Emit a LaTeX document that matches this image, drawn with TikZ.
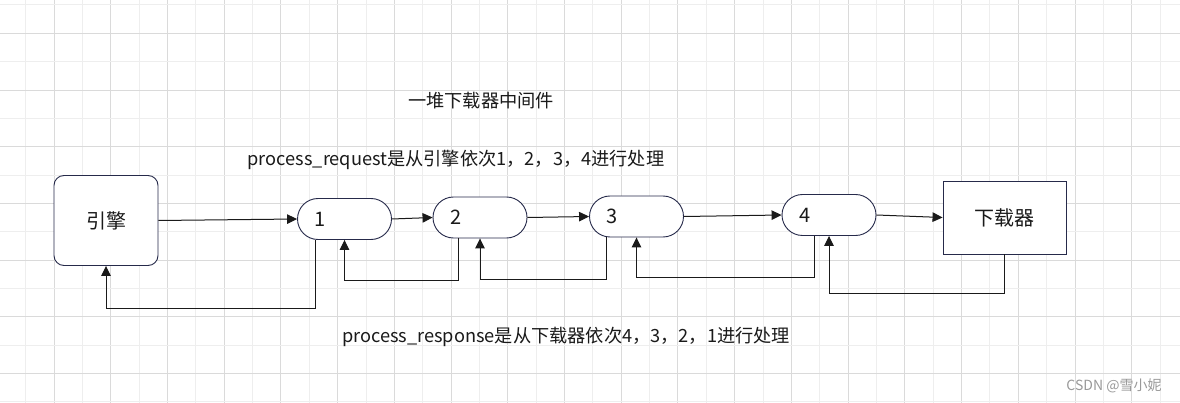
\documentclass[tikz,border=0pt]{standalone}
\usepackage{fontspec}
\setmainfont{Noto Sans CJK SC}
\usepackage{xcolor}
\usepackage{tikz}
\usetikzlibrary{positioning, arrows.meta}

\definecolor{shapeline}{HTML}{262A4A}
\definecolor{gridlight}{HTML}{EEEEEE}
\definecolor{griddark}{HTML}{DADADA}
\definecolor{inkblack}{HTML}{1A1A1A}
\definecolor{markgray}{HTML}{999999}

\begin{document}
\begin{tikzpicture}[
    x=1pt, y=-1pt,
    gridthin/.style={draw=gridlight, line width=1pt},
    gridthick/.style={draw=griddark, line width=1pt},
    endbox/.style={rectangle, draw=shapeline, line width=0.9pt, fill=white, text=inkblack, font=\fontsize{20}{24}\selectfont},
    mwbox/.style={rectangle, draw=shapeline, line width=0.9pt, fill=white, rounded corners=20.5pt, minimum width=94pt, minimum height=41pt, text width=60pt, inner xsep=17pt, inner ysep=0pt, align=left, text=inkblack, font=\fontsize{20}{24}\selectfont},
    note/.style={text=inkblack, inner sep=0pt, font=\fontsize{18.2}{22}\selectfont},
    arrow/.style={-{Triangle[length=10pt,width=9.5pt]}, draw=inkblack, line width=1pt}
]
\useasboundingbox[fill=white] (0,0) rectangle (1180,403);

% Background grid
\foreach \j in {0,...,20} \draw[gridthin] ({25.7+56.72*\j},0) -- ++(0,403);
\foreach \j in {0,...,19} \draw[gridthick] ({54.06+56.72*\j},0) -- ++(0,403);
\foreach \j in {0,...,7} \draw[gridthin] (0,{5+56.7*\j}) -- ++(1180,0);
\foreach \j in {0,...,6} \draw[gridthick] (0,{33.35+56.7*\j}) -- ++(1180,0);

% Engine and downloader
\node[endbox, rounded corners=10pt, minimum width=104pt, minimum height=90pt] (engine) at (106,220.5) {引擎};
\node[endbox, minimum width=123pt, minimum height=73pt] (loader) at (1004.5,217.5) {下载器};

% Middlewares
\node[mwbox] (mw1) at (344.5,219) {1};
\node[mwbox] (mw2) at (480,217.5) {2};
\node[mwbox] (mw3) at (636.5,216.5) {3};
\node[mwbox] (mw4) at (829,215) {4};

% Texts
\node[note] (title) at (481,101) {一堆下载器中间件};
\node[note] (reqnote) at (456,160) {process\_request是从引擎依次1，2，3，4进行处理};
\node[note] (respnote) at (566,337) {process\_response是从下载器依次4，3，2，1进行处理};
\node[text=markgray, inner sep=0pt, font=\fontsize{14}{16}\selectfont] (mark) at (1114,386) {CSDN @雪小妮};

% Request path
\draw[arrow] (engine.east) -- (mw1.west);
\draw[arrow] (mw1.east) -- (mw2.west);
\draw[arrow] (mw2.east) -- (mw3.west);
\draw[arrow] (mw3.east) -- (mw4.west);
\draw[arrow] (mw4.east) -- (loader.west);

% Response path
\draw[arrow] (loader.south) -- ++(0,39) -| (mw4.south);
\draw[arrow] ([xshift=-15pt]mw4.south) -- ++(0,42) -| (mw3.south);
\draw[arrow] ([xshift=-30.5pt]mw3.south) -- ++(0,42) -| (mw2.south);
\draw[arrow] ([xshift=-22pt]mw2.south) -- ++(0,42) -| (mw1.south);
\draw[arrow] ([xshift=-29.5pt]mw1.south) -- ++(0,68.5) -| (engine.south);

\end{tikzpicture}
\end{document}
